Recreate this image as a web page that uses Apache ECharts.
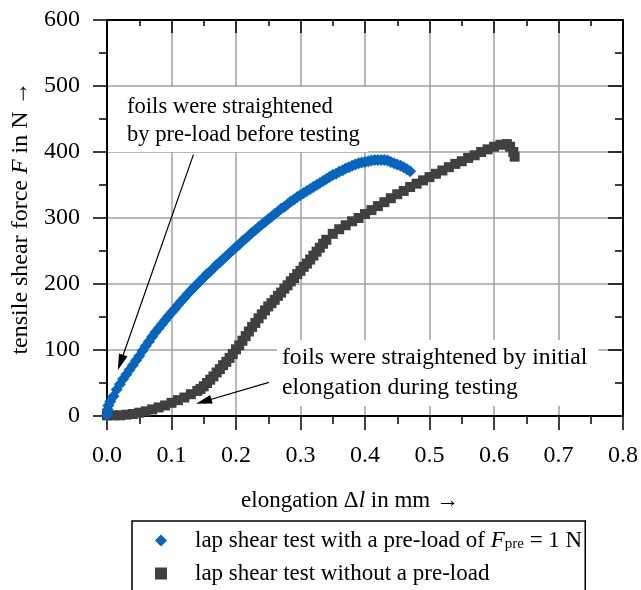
<!DOCTYPE html>
<html>
<head>
<meta charset="utf-8">
<script src="https://cdn.jsdelivr.net/npm/echarts@6/dist/echarts.min.js"></script>
<style>
  html, body { margin: 0; padding: 0; background: #fff; }
  #chart { width: 641px; height: 590px; }
</style>
</head>
<body>
<div id="chart"></div>
<script>
// lap shear test with pre-load (blue diamonds)
const blueX = [0.000, 0.001, 0.002, 0.005, 0.010, 0.015, 0.020, 0.025, 0.030, 0.035, 0.040, 0.045, 0.050, 0.055, 0.060, 0.065, 0.070, 0.075, 0.080, 0.085, 0.090, 0.095, 0.100, 0.105, 0.110, 0.115, 0.120, 0.125, 0.130, 0.135, 0.140, 0.145, 0.150, 0.155, 0.160, 0.165, 0.170, 0.175, 0.180, 0.185, 0.190, 0.195, 0.200, 0.205, 0.210, 0.215, 0.220, 0.225, 0.230, 0.235, 0.240, 0.245, 0.250, 0.255, 0.260, 0.265, 0.270, 0.275, 0.280, 0.285, 0.290, 0.295, 0.300, 0.305, 0.310, 0.315, 0.320, 0.325, 0.330, 0.335, 0.340, 0.345, 0.350, 0.355, 0.360, 0.365, 0.370, 0.375, 0.380, 0.385, 0.390, 0.395, 0.400, 0.405, 0.410, 0.415, 0.420, 0.425, 0.430, 0.435, 0.440, 0.445, 0.450, 0.455, 0.460, 0.465, 0.470]
const blueF = [2, 10, 16, 22, 30, 40, 48, 56, 63, 70, 77, 84, 91, 99, 106, 113, 120, 127, 133, 139, 145, 151, 157, 162, 168, 174, 179, 185, 190, 195, 200, 205, 210, 215, 219, 224, 229, 233, 238, 242, 247, 251, 256, 260, 265, 269, 273, 278, 282, 286, 290, 294, 298, 302, 306, 310, 314, 317, 321, 325, 328, 332, 335, 338, 341, 344, 347, 350, 353, 356, 359, 362, 365, 367, 370, 372, 375, 377, 379, 381, 383, 384, 385, 386, 387, 388, 388, 388, 388, 387, 385, 383, 381, 379, 377, 374, 371]

// lap shear test without pre-load (gray squares)
const grayX = [0.00, 0.01, 0.02, 0.03, 0.04, 0.05, 0.06, 0.07, 0.08, 0.09, 0.10, 0.11, 0.12, 0.13, 0.14, 0.145, 0.15, 0.155, 0.16, 0.165, 0.17, 0.175, 0.18, 0.185, 0.19, 0.195, 0.20, 0.205, 0.21, 0.215, 0.22, 0.225, 0.23, 0.235, 0.24, 0.245, 0.25, 0.255, 0.26, 0.265, 0.27, 0.275, 0.28, 0.285, 0.29, 0.295, 0.30, 0.305, 0.31, 0.315, 0.32, 0.325, 0.33, 0.335, 0.34, 0.35, 0.36, 0.37, 0.38, 0.39, 0.40, 0.41, 0.42, 0.43, 0.44, 0.45, 0.46, 0.47, 0.48, 0.49, 0.50, 0.51, 0.52, 0.53, 0.54, 0.55, 0.56, 0.57, 0.58, 0.59, 0.60, 0.61, 0.62, 0.625, 0.630, 0.632]
const grayF = [1, 1, 1, 2, 3, 5, 7, 10, 13, 16, 20, 24, 28, 33, 38, 41, 45, 50, 55, 60, 66, 71, 77, 82, 88, 94, 101, 107, 114, 121, 128, 135, 141, 148, 154, 160, 166, 171, 176, 182, 187, 193, 198, 204, 209, 215, 220, 226, 231, 237, 243, 249, 255, 261, 267, 276, 283, 289, 295, 300, 306, 312, 318, 324, 330, 336, 341, 347, 352, 357, 362, 367, 372, 377, 382, 386, 391, 395, 400, 404, 408, 411, 412, 408, 400, 393]

const seriesNames = ['lap shear test with a pre-load of F_pre = 1 N', 'lap shear test without a pre-load']
const xTicks = { min: 0, max: 0.8, interval: 0.1 }
const yTicks = { min: 0, max: 600, interval: 100 }

const FONT = '"Liberation Serif", "Times New Roman", serif'
const zip = (xs, ys) => xs.map((x, i) => [x, ys[i]])

const chart = echarts.init(document.getElementById('chart'), null, { renderer: 'canvas' })

const frameAxis = (extra) => Object.assign({
  type: 'value',
  axisLine: { show: true, onZero: false, lineStyle: { color: '#000', width: 2 } },
  axisTick: { show: true, length: 14, lineStyle: { color: '#000', width: 1.5 } },
  minorTick: { show: true, splitNumber: 2, length: 8, lineStyle: { color: '#000', width: 1.5 } },
  splitLine: { show: false },
  axisLabel: { show: false }
}, extra)

chart.setOption({
  animation: false,
  backgroundColor: '#fff',
  grid: { left: 107, right: 14, top: 20, bottom: 174, containLabel: false },
  xAxis: [
    frameAxis({
      position: 'bottom',
      min: xTicks.min, max: xTicks.max, interval: xTicks.interval,
      splitLine: { show: true, lineStyle: { color: '#a0a0a0', width: 1.5 } },
      axisLabel: {
        show: true, margin: 28, color: '#000', fontFamily: FONT, fontSize: 24,
        formatter: v => v.toFixed(1)
      },
      name: 'elongation \u0394{i|l} in mm \u2192',
      nameLocation: 'middle',
      nameGap: 73,
      nameTextStyle: {
        color: '#000', fontFamily: FONT, fontSize: 23, padding: [0, 30, 0, 0],
        rich: { i: { fontFamily: FONT, fontSize: 23, fontStyle: 'italic', color: '#000' } }
      }
    }),
    frameAxis({
      position: 'top',
      min: xTicks.min, max: xTicks.max, interval: xTicks.interval,
      axisTick: { show: true, inside: true, length: 13, lineStyle: { color: '#000', width: 1.5 } },
      minorTick: { show: true, splitNumber: 2, length: 6, lineStyle: { color: '#000', width: 1.5 } }
    })
  ],
  yAxis: [
    frameAxis({
      position: 'left',
      min: yTicks.min, max: yTicks.max, interval: yTicks.interval,
      splitLine: { show: true, lineStyle: { color: '#a0a0a0', width: 1.5 } },
      axisLabel: { show: true, margin: 27, color: '#000', fontFamily: FONT, fontSize: 24 },
      name: 'tensile shear force {i|F} in N \u2192',
      nameLocation: 'middle',
      nameRotate: 90,
      nameGap: 74,
      nameTextStyle: {
        color: '#000', fontFamily: FONT, fontSize: 24,
        rich: { i: { fontFamily: FONT, fontSize: 24, fontStyle: 'italic', color: '#000' } }
      }
    }),
    frameAxis({
      position: 'right',
      min: yTicks.min, max: yTicks.max, interval: yTicks.interval,
      axisTick: { show: true, inside: true, length: 15, lineStyle: { color: '#000', width: 1.5 } },
      minorTick: { show: true, splitNumber: 2, length: 8, lineStyle: { color: '#000', width: 1.5 } }
    })
  ],
  legend: {
    orient: 'vertical',
    left: 132,
    top: 521,
    height: 200,
    padding: [8, 3, 40, 23],
    itemGap: 10,
    itemWidth: 12,
    itemHeight: 12,
    borderColor: '#000',
    borderWidth: 1.5,
    data: [
      { name: seriesNames[0], icon: 'diamond' },
      { name: seriesNames[1], icon: 'path://M1,1L11,1L11,11L1,11Z' }
    ],
    formatter: name => name === seriesNames[0]
      ? 'lap shear test with a pre-load of {i|F}{sub|pre} = 1 N'
      : name,
    textStyle: {
      color: '#000', fontFamily: FONT, fontSize: 23, lineHeight: 22, padding: [0, 0, 0, 23],
      rich: {
        i: { fontFamily: FONT, fontSize: 23, lineHeight: 22, fontStyle: 'italic', color: '#000' },
        sub: { fontFamily: FONT, fontSize: 15, lineHeight: 6, verticalAlign: 'bottom', color: '#000' }
      }
    }
  },
  graphic: [
    {
      type: 'text', left: 108, top: 87, z: 10,
      style: {
        text: 'foils were straightened\nby pre-load before testing',
        font: '22.6px ' + FONT, fill: '#000', lineHeight: 28,
        backgroundColor: '#fff', padding: [6, 8, 3, 19]
      }
    },
    {
      type: 'text', left: 277, top: 340, z: 10,
      style: {
        text: 'foils were straightened by initial\nelongation during testing',
        font: '23.6px ' + FONT, fill: '#000', lineHeight: 30,
        backgroundColor: '#fff', padding: [3, 11, 3, 5]
      }
    }
  ],
  series: [
    {
      name: seriesNames[0],
      type: 'scatter',
      z: 4,
      symbol: 'diamond',
      symbolSize: 12,
      itemStyle: { color: '#0565c0', opacity: 1 },
      data: zip(blueX, blueF)
    },
    {
      name: seriesNames[1],
      type: 'scatter',
      z: 3,
      symbol: 'rect',
      symbolSize: 10,
      itemStyle: { color: '#404040', opacity: 1 },
      data: zip(grayX, grayF),
      markLine: {
        silent: true,
        animation: false,
        symbol: ['none', 'triangle'],
        label: { show: false },
        lineStyle: { color: '#000', width: 1.2, type: 'solid' },
        data: [
          [{ coord: [0.134, 396] }, { coord: [0.021, 81], symbolSize: [9, 16] }],
          [{ coord: [0.251, 51] }, { coord: [0.150, 22], symbolSize: [9, 16] }]
        ]
      }
    }
  ]
})
</script>
</body>
</html>
